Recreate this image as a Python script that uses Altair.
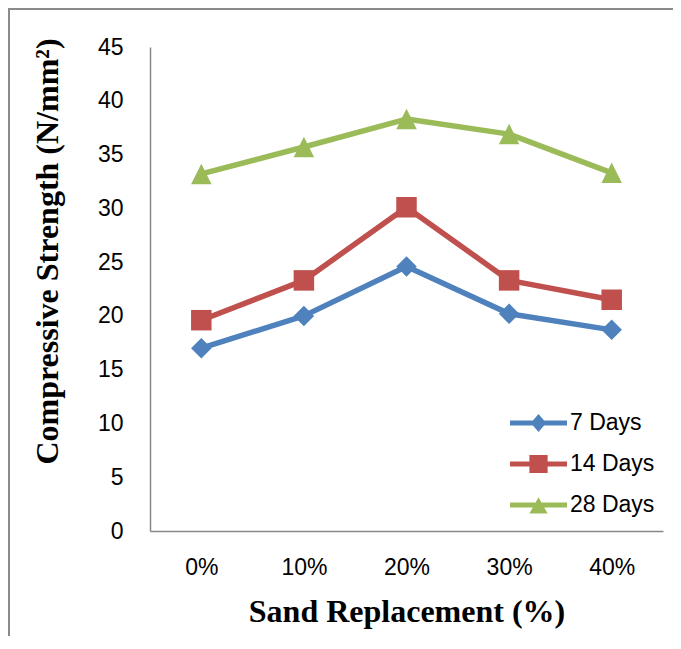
import altair as alt
import pandas as pd

categories = ["0%", "10%", "20%", "30%", "40%"]
series_names = ["7 Days", "14 Days", "28 Days"]
days_7 = [17.0, 20.0, 24.6, 20.2, 18.7]
days_14 = [19.6, 23.3, 30.1, 23.3, 21.5]
days_28 = [33.2, 35.7, 38.3, 36.9, 33.3]
y_ticks = [0, 5, 10, 15, 20, 25, 30, 35, 40, 45]
colors = ["#4F81BD", "#C0504D", "#9BBB59"]
marker_sizes = [420, 420, 420]

rows = []
for name, vals in zip(series_names, [days_7, days_14, days_28]):
    for c, v in zip(categories, vals):
        rows.append({"Replacement": c, "Series": name, "Strength": v})
df = pd.DataFrame(rows)

W, H = 513, 484
PAD = {"left": 142, "top": 39, "right": 10, "bottom": 105}
SANS = "Liberation Sans, Arial, sans-serif"
SERIF = "Liberation Serif, Times New Roman, serif"
AXIS_GREY = "#878787"

# plot marker shapes
shapes = ["diamond", "square", "M0,-1L1,1L-1,1Z"]

# legend symbol paths: line segment plus marker
p_line = "M-1,-0.09L1,-0.09L1,0.09L-1,0.09Z"
p_diamond = p_line + "M0,-0.32L0.27,0L0,0.32L-0.27,0Z"
p_square = p_line + "M-0.32,-0.32L0.32,-0.32L0.32,0.32L-0.32,0.32Z"
p_triangle = p_line + "M0,-0.27L0.32,0.3L-0.32,0.3Z"
legend_paths = [p_diamond, p_square, p_triangle]

x_enc = alt.X(
    "Replacement:N",
    sort=categories,
    scale=alt.Scale(type="point", padding=0.5),
    axis=alt.Axis(
        title="Sand Replacement (%)",
        labelAngle=0,
        ticks=False,
        grid=False,
        domainColor=AXIS_GREY,
        domainWidth=1.5,
        labelFont=SANS,
        labelFontSize=23,
        labelColor="black",
        labelPadding=25,
        titleFont=SERIF,
        titleFontSize=32,
        titleFontWeight="bold",
        titleColor="black",
        titleY=90,
        titleBaseline="alphabetic",
    ),
)
y_enc = alt.Y(
    "Strength:Q",
    scale=alt.Scale(domain=[0, 45], nice=False),
    axis=alt.Axis(
        values=y_ticks,
        title="Compressive Strength (N/mm²)",
        ticks=False,
        grid=False,
        domainColor=AXIS_GREY,
        domainWidth=1.5,
        labelFont=SANS,
        labelFontSize=23,
        labelColor="black",
        labelPadding=27,
        titleFont=SERIF,
        titleFontSize=32,
        titleFontWeight="bold",
        titleColor="black",
        titleX=-93,
        titleY=204,
        titleBaseline="alphabetic",
    ),
)

color_scale = alt.Scale(domain=series_names, range=colors)

legend = alt.Legend(
    title=None,
    orient="none",
    legendX=360,
    legendY=366,
    padding=0,
    symbolSize=3249,
    clipHeight=20,
    rowPadding=18,
    labelOffset=3,
    labelFont=SANS,
    labelFontSize=23,
    labelColor="black",
    labelLimit=300,
    symbolStrokeWidth=0,
    symbolOpacity=1,
)

frame_df = pd.DataFrame({"k": [0]})
left_rule = alt.Chart(frame_df).mark_rule(color="#8a8a8a", strokeWidth=2).encode(
    x=alt.value(-141), y=alt.value(-39), y2=alt.value(H + 120)
)
top_rule = alt.Chart(frame_df).mark_rule(color="#8a8a8a", strokeWidth=2).encode(
    x=alt.value(-142), x2=alt.value(W + 30), y=alt.value(-38)
)

line_layers = []
point_layers = []
for name, shp, sz, col in zip(series_names, shapes, marker_sizes, colors):
    base = alt.Chart(df).transform_filter(alt.datum.Series == name)
    line_layers.append(
        base.mark_line(strokeWidth=5.5, strokeJoin="round", strokeCap="round", color=col)
        .encode(x=x_enc, y=y_enc)
    )
    point_layers.append(
        base.mark_point(filled=True, opacity=1, strokeWidth=0, shape=shp, size=sz, color=col)
        .encode(x=x_enc, y=y_enc)
    )

legend_layer = (
    alt.Chart(df)
    .transform_filter("false")
    .mark_point(filled=True, opacity=1, strokeWidth=0)
    .encode(
        x=x_enc,
        y=y_enc,
        color=alt.Color("Series:N", scale=color_scale, legend=legend),
        shape=alt.Shape("Series:N", scale=alt.Scale(domain=series_names, range=legend_paths), legend=legend),
    )
)

chart = alt.layer(left_rule, top_rule, *line_layers, *point_layers, legend_layer).properties(
    width=W,
    height=H,
    autosize=alt.AutoSizeParams(type="none"),
    padding=PAD,
    background="white",
).configure_view(stroke=None)

chart.save("out.html", embed_options={"renderer": "svg", "actions": False})
